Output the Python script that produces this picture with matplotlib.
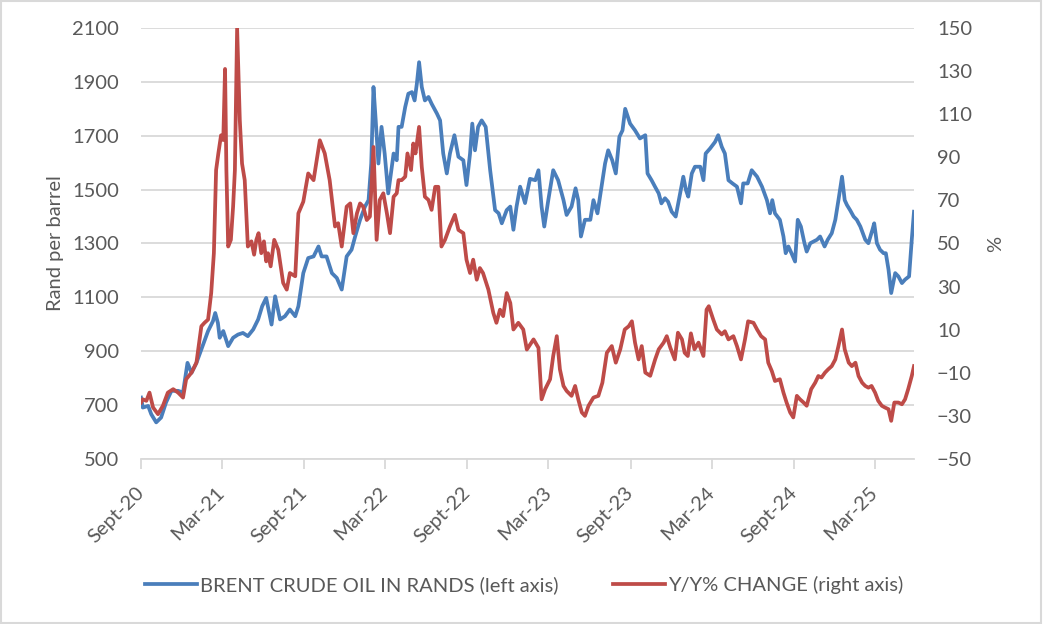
import pandas as pd
import matplotlib
matplotlib.use("Agg")
import matplotlib.pyplot as plt
from matplotlib.patches import Rectangle

plt.rcParams['font.family'] = ['Lato', 'DejaVu Sans']

# Brent crude oil in rands (left axis)
blue_dates = [
    '2020-09-01', '2020-09-05', '2020-09-17', '2020-09-24', '2020-10-05', '2020-10-16', '2020-10-27',
    '2020-11-08', '2020-11-23', '2020-12-04', '2020-12-14', '2020-12-23', '2021-01-03', '2021-01-18',
    '2021-01-29', '2021-02-09', '2021-02-14', '2021-02-20', '2021-02-24', '2021-03-04', '2021-03-15',
    '2021-03-26', '2021-04-06', '2021-04-17', '2021-04-28', '2021-05-10', '2021-05-21', '2021-05-30',
    '2021-06-08', '2021-06-20', '2021-06-28', '2021-07-09', '2021-07-20', '2021-07-31', '2021-08-12',
    '2021-08-19', '2021-08-30', '2021-09-10', '2021-09-22', '2021-10-03', '2021-10-10', '2021-10-21',
    '2021-11-02', '2021-11-13', '2021-11-24', '2021-12-05', '2021-12-16', '2021-12-24', '2022-01-04',
    '2022-01-15', '2022-01-23', '2022-01-29', '2022-02-03', '2022-02-08', '2022-02-14', '2022-02-21',
    '2022-02-28', '2022-03-08', '2022-03-20', '2022-03-27', '2022-03-31', '2022-04-07', '2022-04-15',
    '2022-04-22', '2022-04-30', '2022-05-06', '2022-05-11', '2022-05-16', '2022-05-22', '2022-05-29',
    '2022-06-06', '2022-06-13', '2022-06-25', '2022-07-02', '2022-07-09', '2022-07-17', '2022-07-24',
    '2022-08-03', '2022-08-12', '2022-08-23', '2022-08-30', '2022-09-07', '2022-09-12', '2022-09-18',
    '2022-09-25', '2022-10-03', '2022-10-12', '2022-10-22', '2022-11-02', '2022-11-10', '2022-11-17',
    '2022-11-28', '2022-12-06', '2022-12-13', '2022-12-20', '2022-12-28', '2023-01-08', '2023-01-19',
    '2023-01-31', '2023-02-07', '2023-02-14', '2023-02-20', '2023-03-01', '2023-03-12', '2023-03-23',
    '2023-04-04', '2023-04-11', '2023-04-22', '2023-05-01', '2023-05-07', '2023-05-13', '2023-05-22',
    '2023-06-03', '2023-06-10', '2023-06-19', '2023-06-28', '2023-07-06', '2023-07-13', '2023-07-22',
    '2023-07-30', '2023-08-07', '2023-08-14', '2023-08-20', '2023-08-31', '2023-09-11', '2023-09-22',
    '2023-10-04', '2023-10-09', '2023-10-18', '2023-10-26', '2023-11-03', '2023-11-09', '2023-11-17',
    '2023-11-24', '2023-12-02', '2023-12-11', '2023-12-18', '2023-12-28', '2024-01-03', '2024-01-08',
    '2024-01-16', '2024-01-23', '2024-02-04', '2024-02-11', '2024-02-16', '2024-02-26', '2024-03-08',
    '2024-03-15', '2024-03-23', '2024-03-30', '2024-04-07', '2024-04-16', '2024-04-26', '2024-05-05',
    '2024-05-10', '2024-05-20', '2024-05-29', '2024-06-10', '2024-06-21', '2024-07-02', '2024-07-09',
    '2024-07-14', '2024-07-20', '2024-07-31', '2024-08-08', '2024-08-13', '2024-08-19', '2024-08-26',
    '2024-09-03', '2024-09-09', '2024-09-16', '2024-09-24', '2024-09-29', '2024-10-07', '2024-10-14',
    '2024-10-22', '2024-10-29', '2024-11-08', '2024-11-15', '2024-11-24', '2024-12-02', '2024-12-09',
    '2024-12-17', '2024-12-23', '2024-12-28', '2025-01-04', '2025-01-12', '2025-01-19', '2025-01-27',
    '2025-02-07', '2025-02-14', '2025-02-23', '2025-02-27', '2025-03-05', '2025-03-12', '2025-03-20',
    '2025-03-25', '2025-03-31', '2025-04-06', '2025-04-15', '2025-04-22', '2025-04-30', '2025-05-07',
    '2025-05-16', '2025-05-22', '2025-05-27',
]
blue_vals = [
    728, 691, 697, 666, 636, 654, 710,
    753, 753, 747, 857, 820, 857, 925,
    975, 1012, 1042, 1005, 950, 975, 919,
    950, 962, 968, 956, 981, 1018, 1067,
    1098, 999, 1104, 1018, 1030, 1055, 1030,
    1067, 1190, 1246, 1252, 1289, 1252, 1252,
    1190, 1172, 1129, 1252, 1277, 1326, 1388,
    1437, 1461, 1597, 1881, 1757, 1597, 1733,
    1634, 1486, 1634, 1609, 1733, 1733, 1807,
    1856, 1862, 1831, 1893, 1973, 1881, 1831,
    1844, 1819, 1782, 1757, 1634, 1560, 1634,
    1702, 1622, 1609, 1517, 1634, 1745, 1646,
    1733, 1757, 1733, 1572, 1424, 1412, 1375,
    1424, 1437, 1351, 1437, 1511, 1450, 1540,
    1535, 1572, 1437, 1363, 1461, 1572, 1535,
    1461, 1406, 1437, 1505, 1461, 1326, 1388,
    1388, 1461, 1412, 1511, 1597, 1646, 1609,
    1560, 1696, 1720, 1800, 1745, 1720, 1690,
    1702, 1560, 1535, 1510, 1486, 1449, 1468,
    1455, 1418, 1400, 1461, 1548, 1498, 1474,
    1560, 1585, 1585, 1535, 1634, 1653, 1677,
    1702, 1659, 1634, 1535, 1523, 1511, 1449,
    1523, 1523, 1572, 1548, 1511, 1461, 1412,
    1461, 1412, 1388, 1326, 1264, 1289, 1264,
    1233, 1388, 1363, 1301, 1270, 1301, 1307,
    1314, 1326, 1289, 1314, 1338, 1388, 1461,
    1548, 1461, 1443, 1424, 1400, 1388, 1363,
    1314, 1301, 1351, 1375, 1301, 1277, 1264,
    1264, 1203, 1116, 1190, 1178, 1153, 1166,
    1178, 1314, 1418,
]

# year-on-year % change (right axis)
red_dates = [
    '2020-09-01', '2020-09-05', '2020-09-13', '2020-09-20', '2020-09-28', '2020-10-09', '2020-10-20',
    '2020-10-31', '2020-11-12', '2020-11-23', '2020-12-04', '2020-12-11', '2020-12-23', '2021-01-03',
    '2021-01-14', '2021-01-21', '2021-01-29', '2021-02-05', '2021-02-11', '2021-02-16', '2021-02-21',
    '2021-02-27', '2021-03-04', '2021-03-08', '2021-03-11', '2021-03-15', '2021-03-21', '2021-03-26',
    '2021-03-30', '2021-04-04', '2021-04-10', '2021-04-15', '2021-04-21', '2021-04-28', '2021-05-06',
    '2021-05-12', '2021-05-17', '2021-05-22', '2021-05-28', '2021-06-03', '2021-06-08', '2021-06-12',
    '2021-06-18', '2021-06-26', '2021-07-05', '2021-07-16', '2021-07-24', '2021-07-31', '2021-08-12',
    '2021-08-19', '2021-08-30', '2021-09-10', '2021-09-22', '2021-09-29', '2021-10-06', '2021-10-17',
    '2021-10-28', '2021-11-09', '2021-11-16', '2021-11-24', '2021-12-05', '2021-12-13', '2021-12-20',
    '2021-12-28', '2022-01-04', '2022-01-11', '2022-01-19', '2022-01-26', '2022-02-03', '2022-02-10',
    '2022-02-17', '2022-02-25', '2022-03-05', '2022-03-12', '2022-03-20', '2022-03-27', '2022-03-31',
    '2022-04-07', '2022-04-15', '2022-04-20', '2022-04-28', '2022-05-03', '2022-05-08', '2022-05-16',
    '2022-05-22', '2022-05-29', '2022-06-06', '2022-06-13', '2022-06-21', '2022-06-28', '2022-07-05',
    '2022-07-13', '2022-07-24', '2022-08-04', '2022-08-12', '2022-08-23', '2022-08-30', '2022-09-07',
    '2022-09-14', '2022-09-22', '2022-09-29', '2022-10-06', '2022-10-18', '2022-10-29', '2022-11-05',
    '2022-11-13', '2022-11-20', '2022-11-28', '2022-12-06', '2022-12-13', '2022-12-24', '2023-01-04',
    '2023-01-12', '2023-01-19', '2023-01-27', '2023-02-07', '2023-02-14', '2023-02-22', '2023-03-05',
    '2023-03-12', '2023-03-20', '2023-03-27', '2023-04-04', '2023-04-11', '2023-04-22', '2023-04-30',
    '2023-05-07', '2023-05-15', '2023-05-22', '2023-05-30', '2023-06-10', '2023-06-21', '2023-06-30',
    '2023-07-10', '2023-07-21', '2023-07-30', '2023-08-09', '2023-08-19', '2023-08-28', '2023-09-04',
    '2023-09-11', '2023-09-19', '2023-09-26', '2023-10-04', '2023-10-15', '2023-10-26', '2023-11-03',
    '2023-11-14', '2023-11-21', '2023-11-29', '2023-12-09', '2023-12-16', '2023-12-25', '2023-12-31',
    '2024-01-07', '2024-01-14', '2024-01-22', '2024-01-31', '2024-02-11', '2024-02-18', '2024-02-23',
    '2024-03-04', '2024-03-12', '2024-03-23', '2024-03-30', '2024-04-07', '2024-04-18', '2024-04-26',
    '2024-05-05', '2024-05-14', '2024-05-21', '2024-06-02', '2024-06-10', '2024-06-19', '2024-06-28',
    '2024-07-05', '2024-07-13', '2024-07-20', '2024-07-31', '2024-08-08', '2024-08-15', '2024-08-23',
    '2024-08-30', '2024-09-07', '2024-09-14', '2024-09-22', '2024-09-29', '2024-10-09', '2024-10-18',
    '2024-10-25', '2024-11-01', '2024-11-09', '2024-11-16', '2024-11-24', '2024-12-02', '2024-12-09',
    '2024-12-17', '2024-12-23', '2025-01-01', '2025-01-08', '2025-01-16', '2025-01-23', '2025-01-31',
    '2025-02-07', '2025-02-14', '2025-02-21', '2025-03-01', '2025-03-08', '2025-03-16', '2025-03-23',
    '2025-03-31', '2025-04-06', '2025-04-13', '2025-04-22', '2025-04-30', '2025-05-07', '2025-05-14',
    '2025-05-22', '2025-05-27',
]
red_vals = [
    -23.8, -22.3, -23.0, -19.2, -26.1, -29.2, -25.3,
    -19.2, -17.6, -19.2, -21.5, -13.0, -9.9, -5.3,
    11.6, 13.2, 14.7, 27.0, 45.5, 84.1, 91.8,
    100.2, 98.0, 131.0, 84.0, 48.6, 51.7, 67.1,
    84.0, 150.0, 107.2, 87.1, 79.4, 48.6, 51.0,
    44.8, 51.7, 54.8, 45.5, 51.0, 41.7, 45.5,
    39.4, 51.7, 47.1, 31.7, 28.6, 36.3, 34.8,
    64.0, 69.4, 82.5, 79.4, 88.7, 97.9, 91.8,
    79.4, 57.9, 59.4, 48.6, 67.1, 68.6, 54.8,
    64.0, 68.6, 67.1, 60.9, 62.5, 94.8, 51.7,
    70.2, 73.3, 64.0, 54.8, 71.7, 73.3, 79.4,
    79.4, 81.0, 91.8, 84.1, 96.4, 91.8, 104.1,
    85.6, 71.7, 70.2, 65.6, 76.3, 76.3, 48.6,
    51.7, 57.9, 63.3, 56.3, 54.8, 42.5, 36.3,
    42.5, 33.2, 38.6, 36.3, 28.6, 17.8, 13.2,
    19.3, 16.3, 27.0, 22.4, 10.1, 13.2, 10.1,
    0.8, 3.0, 5.5, 1.6, -22.3, -17.6, -13.0,
    -2.2, 7.0, -8.4, -16.1, -18.4, -20.7, -16.1,
    -22.3, -28.4, -30.0, -25.3, -21.5, -20.7, -14.6,
    -0.7, 2.4, -5.3, 0.9, 10.1, 11.6, 13.9,
    4.0, -3.8, 2.4, -9.9, -11.4, -3.8, 0.9,
    4.0, 7.0, 1.6, -3.8, 8.6, 5.5, -0.7,
    -2.2, 8.3, 0.9, 4.0, -2.2, 19.3, 20.9,
    14.7, 10.1, 7.8, 9.3, 5.5, 7.0, 2.4,
    -3.8, 5.5, 13.9, 13.2, 10.1, 7.0, 5.5,
    -5.3, -9.2, -13.8, -13.0, -19.2, -23.8, -28.4,
    -30.7, -20.7, -22.3, -23.8, -25.3, -17.6, -14.6,
    -11.5, -12.2, -9.9, -8.4, -6.9, -3.8, 2.4,
    10.1, 0.9, -5.3, -6.9, -5.3, -11.5, -14.6,
    -16.1, -16.9, -16.1, -19.2, -23.0, -25.3, -26.1,
    -26.9, -32.3, -23.8, -23.8, -24.6, -22.3, -17.6,
    -11.5, -6.9,
]

tick_dates = ['2020-09-01', '2021-03-01', '2021-09-01', '2022-03-01', '2022-09-01',
              '2023-03-01', '2023-09-01', '2024-03-01', '2024-09-01', '2025-03-01']
tick_labels = ['Sept-20', 'Mar-21', 'Sept-21', 'Mar-22', 'Sept-22',
               'Mar-23', 'Sept-23', 'Mar-24', 'Sept-24', 'Mar-25']

blue = '#4A7EBB'
red = '#BE4B48'
grey_txt = '#595959'
grid_col = '#D9D9D9'
fs = 14.5

fig = plt.figure(figsize=(10.43, 6.24), dpi=100)
ax = fig.add_axes([141/1043, 1 - 459/624, 773/1043, 431/624])
ax2 = ax.twinx()

l1, = ax.plot(pd.to_datetime(blue_dates), blue_vals, color=blue, lw=2.7,
              label='BRENT CRUDE OIL IN RANDS (left axis)')
l2, = ax2.plot(pd.to_datetime(red_dates), red_vals, color=red, lw=2.7,
               label='Y/Y% CHANGE (right axis)')

ax.set_xlim(pd.Timestamp('2020-09-01'), pd.Timestamp('2025-05-27'))
ax.set_ylim(500, 2100)
ax.set_yticks(range(500, 2101, 200))
ax2.set_ylim(-50, 150)
ax2.set_yticks(range(-50, 151, 20))

ax.grid(axis='y', color=grid_col, lw=1.3)
ax.set_axisbelow(True)
for a in (ax, ax2):
    for s in a.spines.values():
        s.set_visible(False)
ax.spines['bottom'].set_visible(True)
ax.spines['bottom'].set_color(grid_col)
ax.spines['bottom'].set_linewidth(1.3)

ax.set_xticks(pd.to_datetime(tick_dates))
ax.set_xticklabels(tick_labels, rotation=45, ha='right', va='center', rotation_mode='anchor')
ax.tick_params(axis='x', length=7, width=1.3, color=grid_col, labelcolor=grey_txt,
               labelsize=fs, pad=15)
ax.tick_params(axis='y', length=0, labelcolor=grey_txt, labelsize=fs, pad=16)
ax2.tick_params(axis='y', length=0, labelcolor=grey_txt, labelsize=fs, pad=16.5)

ax.set_ylabel('Rand per barrel', color=grey_txt, fontsize=fs, labelpad=6)
ax2.set_ylabel('%', color=grey_txt, fontsize=fs, labelpad=11)

fig.legend(handles=[l1, l2], loc='center', bbox_to_anchor=(0.5024, 1 - 585/624), ncol=2,
           frameon=False, fontsize=fs, handlelength=2.6, columnspacing=2.7,
           labelcolor=grey_txt, handletextpad=0.15)

fig.patches.append(Rectangle((0.001, 0.002), 0.997, 0.996, transform=fig.transFigure,
                             fill=False, edgecolor=grid_col, lw=1.5))

fig.savefig('out.png', dpi=100)
